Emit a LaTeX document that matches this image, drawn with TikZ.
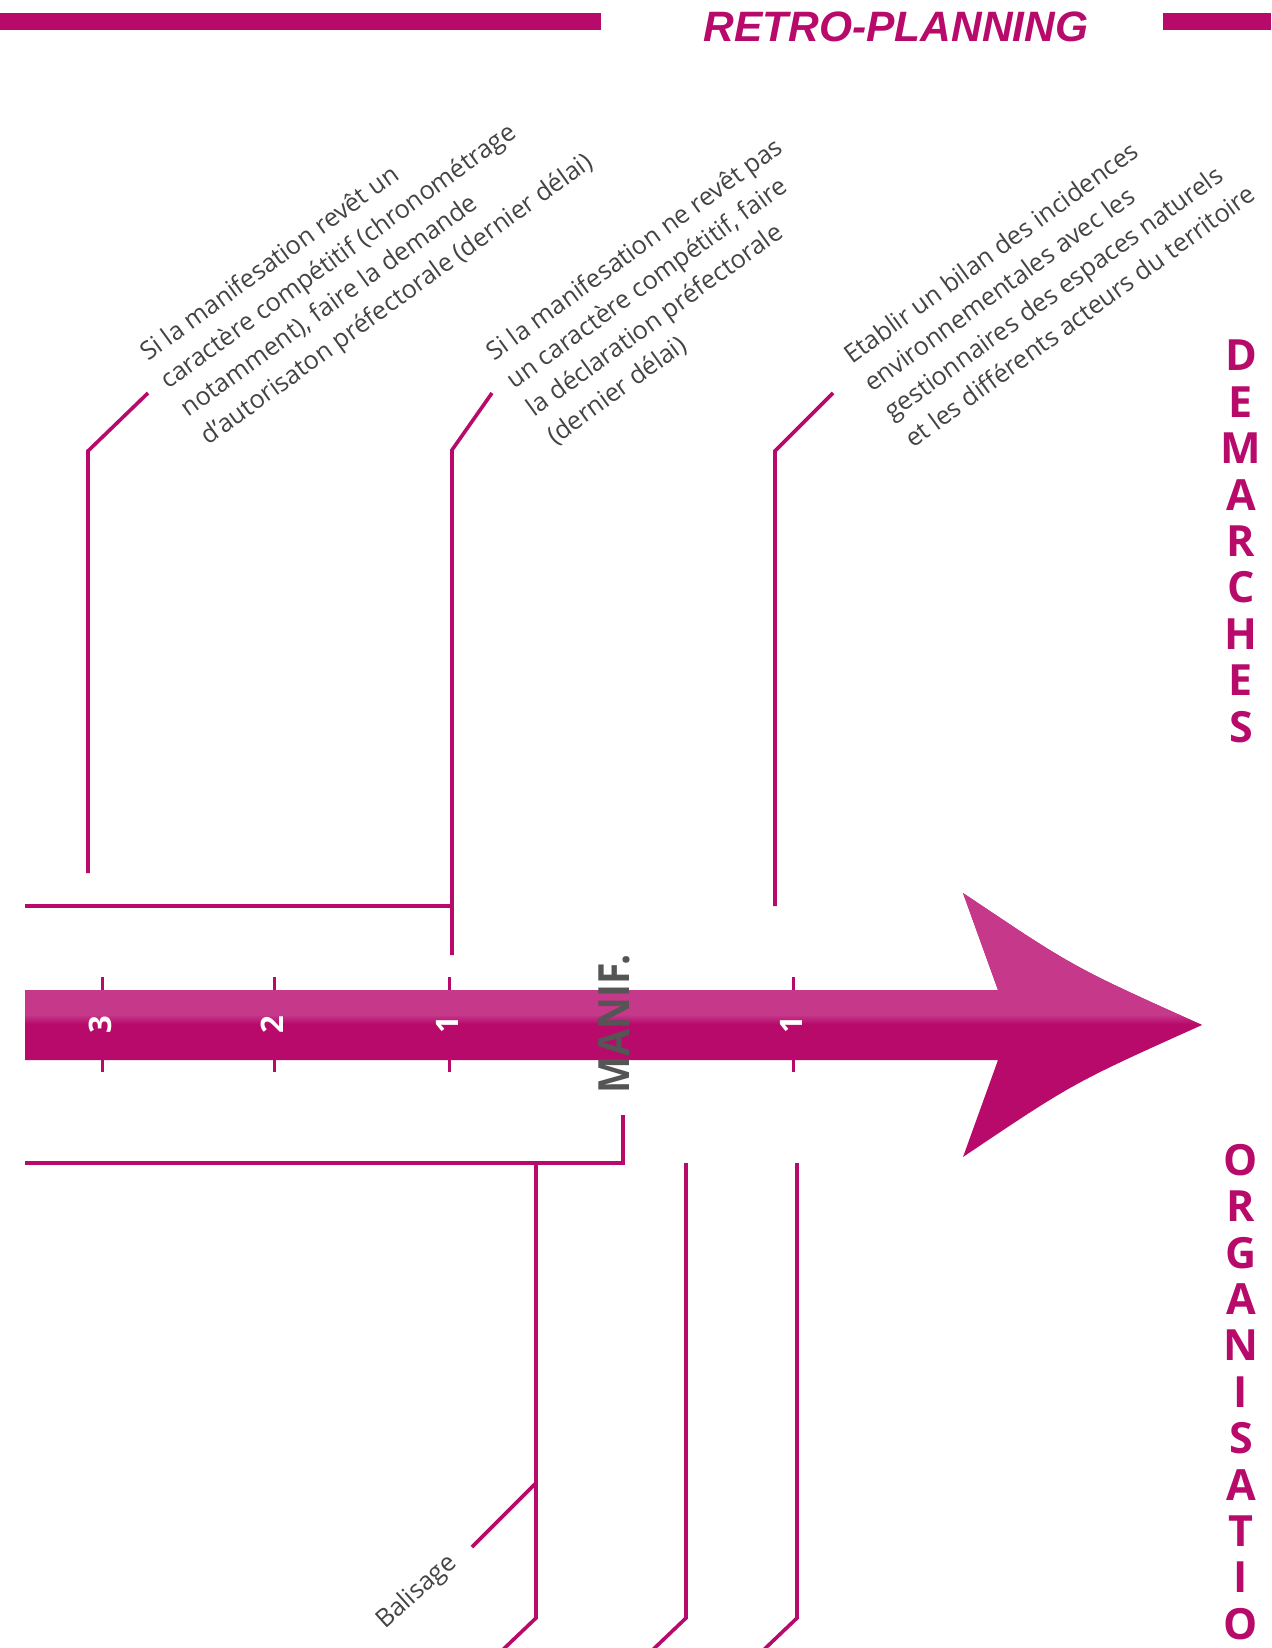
\documentclass[tikz,border=0pt]{standalone}
\usepackage{fontspec}
\setmainfont{Open Sans}
\newfontfamily\headfont{Liberation Sans}
\newfontfamily\manfont[FakeStretch=0.91]{Open Sans}
\definecolor{mag}{RGB}{183,10,106}
\definecolor{magl}{RGB}{197,56,138}
\definecolor{txtgray}{RGB}{68,68,68}
\definecolor{mangray}{RGB}{85,85,85}
\begin{document}
\begin{tikzpicture}[x=1pt,y=-1pt,
  conn/.style={draw=mag, line width=3.6pt, line join=miter},
  lbl/.style={text=txtgray, inner sep=0pt, font=\fontsize{25.3}{34.5}\selectfont},
  side/.style={text=mag, inner sep=0pt, align=center, font=\bfseries\fontsize{43}{46.4}\selectfont},
  num/.style={text=white, inner sep=0pt, rotate=90, font=\bfseries\fontsize{31}{31}\selectfont},
  tickmark/.style={draw=mag, line width=3pt}]
\useasboundingbox (0,0) rectangle (1271,1648);
\clip (0,0) rectangle (1271,1648);
% header
\fill[mag] (0,13) rectangle (601,30);
\fill[mag] (1163,13) rectangle (1271,30);
\node[text=mag, inner sep=0pt, anchor=base, font=\headfont\bfseries\itshape\fontsize{42.5}{42.5}\selectfont] (title) at (896,42) {RETRO-PLANNING};
% main arrow
\fill[mag] (25,990) -- (998,990) -- (963,893) .. controls (1073,967) .. (1202,1025) .. controls (1073,1083) .. (963,1157) -- (998,1060) -- (25,1060) -- cycle;
\begin{scope}
  \clip (25,990) -- (998,990) -- (963,893) .. controls (1073,967) .. (1202,1025) .. controls (1073,1083) .. (963,1157) -- (998,1060) -- (25,1060) -- cycle;
  \fill[magl] (0,880) rectangle (1271,1015);
  \shade[top color=magl, bottom color=mag] (0,1014.5) rectangle (1271,1024);
\end{scope}
% ticks
\foreach \x in {102,274,449,793} {
  \draw[tickmark] (\x,977) -- (\x,990);
  \draw[tickmark] (\x,1060) -- (\x,1072);
}
\node[num] (n3) at (100,1025) {3};
\node[num] (n2) at (272,1025) {2};
\node[num] (n1) at (447,1025) {1};
\node[num] (p1) at (791,1025) {1};
\node[rotate=90, inner sep=0pt, text=mangray, font=\manfont\bfseries\fontsize{43}{43}\selectfont] (manif) at (614,1024) {MANIF.};
% upper connectors
\coordinate (a1) at (148,393); \coordinate (a2) at (88,451); \coordinate (a3) at (88,873);
\coordinate (b1) at (492,393); \coordinate (b2) at (452,450); \coordinate (b3) at (452,955);
\coordinate (b4) at (25,906); \coordinate (b5) at (452,906);
\coordinate (c1) at (833,393); \coordinate (c2) at (775,451); \coordinate (c3) at (775,906);
\draw[conn] (a1) -- (a2) -- (a3);
\draw[conn] (b1) -- (b2) -- (b3);
\draw[conn] (b4) -- (b5);
\draw[conn] (c1) -- (c2) -- (c3);
% lower connectors
\coordinate (d1) at (25,1163); \coordinate (d2) at (623,1163); \coordinate (d3) at (623,1115);
\coordinate (e1) at (536,1163); \coordinate (e2) at (536,1618); \coordinate (e3) at (492,1660);
\coordinate (e4) at (536,1483); \coordinate (e5) at (472,1547);
\coordinate (f1) at (686,1163); \coordinate (f2) at (686,1618); \coordinate (f3) at (642,1660);
\coordinate (g1) at (797,1163); \coordinate (g2) at (797,1618); \coordinate (g3) at (753,1660);
\draw[conn] (d1) -- (d2) -- (d3);
\draw[conn] (e1) -- (e2) -- (e3);
\draw[conn] (e4) -- (e5);
\draw[conn] (f1) -- (f2) -- (f3);
\draw[conn] (g1) -- (g2) -- (g3);
% labels
\node[lbl, rotate=36, anchor=base west] (t1) at (148,362) {\vtop{\hbox{Si la manifesation revêt un}\hbox{caractère compétitif (chronométrage}\hbox{notamment), faire la demande}\hbox{d’autorisaton préfectorale (dernier délai)}}};
\node[lbl, rotate=36, anchor=base west] (t2) at (494,362) {\vtop{\hbox{Si la manifesation ne revêt pas}\hbox{un caractère compétitif, faire}\hbox{la déclaration préfectorale}\hbox{(dernier délai)}}};
\node[lbl, rotate=36, anchor=base west] (t3) at (852,365) {\vtop{\hbox{Etablir un bilan des incidences}\hbox{environnementales avec les}\hbox{gestionnaires des espaces naturels}\hbox{et les différents acteurs du territoire}}};
\node[lbl, rotate=42, anchor=base west] (bal) at (385,1630) {Balisage};
% side titles
\node[side, anchor=north] (dem) at (1241,340) {D\\E\\M\\A\\R\\C\\H\\E\\S};
\node[side, anchor=north] (org) at (1241,1144) {O\\R\\G\\A\\N\\I\\S\\A\\T\\I\\O};
\end{tikzpicture}
\end{document}
